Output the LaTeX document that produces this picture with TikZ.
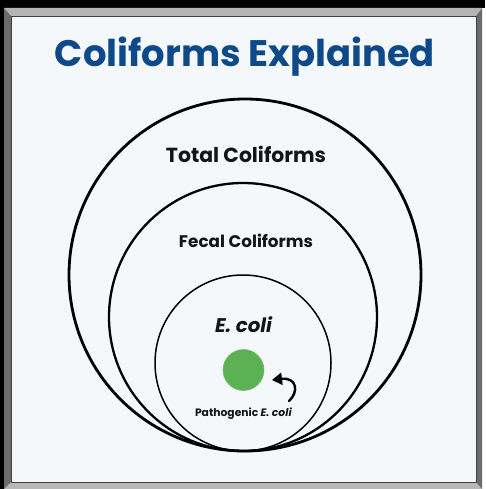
\documentclass[tikz,border=0pt]{standalone}
\usepackage{fontspec}
\setmainfont{Poppins}
\usetikzlibrary{arrows.meta}
\definecolor{titleblue}{RGB}{14,74,138}
\definecolor{panelbg}{RGB}{244,248,250}
\definecolor{bevlight}{RGB}{180,180,180}
\definecolor{bevdark}{RGB}{108,108,108}
\definecolor{dotgreen}{RGB}{92,178,82}
\tikzset{
  ring/.style={draw=black, circle, inner sep=0pt, outer sep=0pt, fill=none},
  lbl/.style={inner sep=0pt, anchor=base, text=black!92},
}
\begin{document}
\begin{tikzpicture}[x=1pt,y=-1pt]
\useasboundingbox (0,0) rectangle (485,489);
% canvas and frame
\fill[white] (0,0) rectangle (485,489);
\fill[black] (0,0) rectangle (485,8);
\fill[black] (0,0) rectangle (4,489);
\fill[bevlight] (4,8) -- (482,8) -- (476,16) -- (11,16) -- cycle;
\fill[bevlight!95!white] (4,489) -- (11,482) -- (476,482) -- (482,489) -- cycle;
\fill[bevdark] (4,8) -- (11,16) -- (11,482) -- (4,489) -- cycle;
\fill[bevdark] (482,8) -- (482,489) -- (476,482) -- (476,16) -- cycle;
\draw[black!75, line width=0.6pt, fill=panelbg] (11,16) rectangle (476,482);
% title
\node[inner sep=0pt, anchor=base, text=titleblue] (title) at (245,67)
  {\resizebox{380pt}{!}{\bfseries Coliforms Explained}};
% rings
\node[ring, line width=2.8pt, minimum size=352pt] (total) at (245,275) {};
\node[ring, line width=2.3pt, minimum size=268pt] (fecal) at (243,317) {};
\node[ring, line width=1.5pt, minimum size=176pt] (ecoli) at (243,363) {};
% labels
\node[lbl] (ltotal) at (246,162) {\resizebox{160pt}{!}{\bfseries Total Coliforms}};
\node[lbl] (lfecal) at (246,247) {\resizebox{134pt}{!}{\bfseries Fecal Coliforms}};
\node[lbl] (lecoli) at (243.5,332) {\resizebox{57pt}{!}{\bfseries\itshape E. coli}};
\node[lbl] (lpath) at (243.5,416.5) {\resizebox{97pt}{!}{\bfseries Pathogenic \textit{E. coli}}};
% pathogenic dot
\node[circle, fill=dotgreen, draw=dotgreen!85!white, line width=0.6pt, minimum size=41pt, inner sep=0pt] (dot) at (243.5,370) {};
% curved arrow
\coordinate (atail) at (289,401);
\coordinate (ahead) at (272,380);
\draw[line width=2.4pt, line cap=round, -{Triangle[length=10pt,width=12pt]}]
  (atail) .. controls (299,392) and (297,377) .. (ahead);
\end{tikzpicture}
\end{document}
